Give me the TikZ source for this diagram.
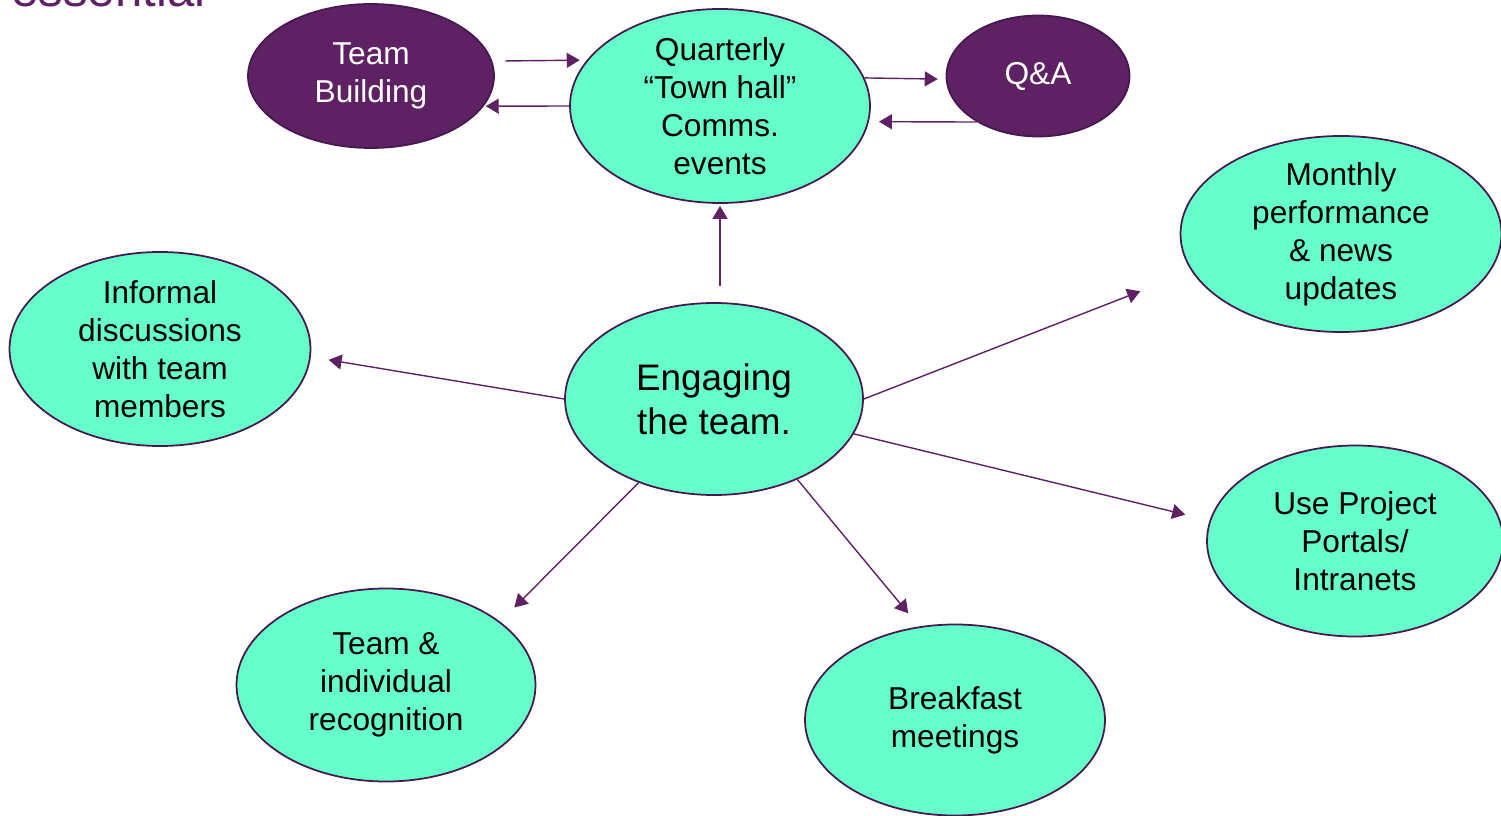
\documentclass[tikz,border=0pt]{standalone}
\usepackage{fontspec}
\setmainfont{Liberation Sans}
\usetikzlibrary{shapes.geometric}
\usetikzlibrary{arrows.meta}
\definecolor{mint}{HTML}{66FFCC}
\definecolor{plum}{HTML}{5E2264}
\definecolor{plumedge}{HTML}{461850}
\tikzstyle{bubble}=[ellipse, draw=plumedge, line width=1pt, fill=mint, align=center, inner xsep=0pt, inner ysep=-3pt, minimum width=6cm, minimum height=3.88cm, font=\fontsize{18}{21.6}\selectfont]
\tikzstyle{dark bubble}=[bubble, fill=plum, text=white]
\tikzstyle{link}=[draw=plum, line width=0.8pt, -{Triangle[length=0.26cm, width=0.3cm]}]

\begin{document}
\begin{tikzpicture}
  \useasboundingbox (0, 0) rectangle (30.02, 16.30);
  \node[anchor=base west, text=plum, font=\fontsize{28}{34}\selectfont] (heading) at (0.1, 16.16) {essential};

  \node[dark bubble, minimum width=4.92cm, minimum height=2.88cm] (team) at (7.42, 14.78) {Team\\Building};
  \node[bubble] (townhall) at (14.40, 14.18) {Quarterly\\“Town hall”\\Comms.\\events};
  \node[dark bubble, minimum width=3.66cm, minimum height=2.42cm] (qa) at (20.76, 14.78) {Q\&A};
  \node[bubble, minimum width=6.42cm, minimum height=3.92cm] (monthly) at (26.82, 11.62) {Monthly\\performance\\\& news\\updates};
  \node[bubble, minimum width=6.02cm] (informal) at (3.20, 9.32) {Informal\\discussions\\with team\\members};
  \node[bubble, minimum width=5.96cm, minimum height=3.84cm, font=\fontsize{21}{25}\selectfont] (engage) at (14.28, 8.32) {Engaging\\the team.};
  \node[bubble, minimum width=5.92cm, minimum height=3.82cm] (portals) at (27.10, 5.48) {Use Project\\Portals/\\Intranets};
  \node[bubble, minimum width=5.98cm, minimum height=3.86cm] (recognition) at (7.72, 2.60) {Team \&\\individual\\recognition};
  \node[bubble, minimum height=3.82cm] (breakfast) at (19.10, 1.90) {Breakfast\\meetings};

  \draw[link, shorten <=0.26cm, shorten >=0.14cm] (team.7) -- (townhall.161);
  \draw[link, shorten >=0.04cm] (townhall.west) -- (team.-15);
  \draw[link, shorten >=0.16cm] (townhall.11) -- (qa.182);
  \draw[link, shorten >=0.2cm] (qa.217) -- (townhall.-6);
  \draw[link, shorten <=0.32cm, shorten >=0.04cm] (engage.north -| townhall.south) -- (townhall.south);
  \draw[link, shorten >=1.1cm] (engage.east) -- (monthly.194);
  \draw[link, shorten >=0.5cm] (engage.-14) -- (portals.172);
  \draw[link, shorten >=0.34cm] (engage.-44) -- (breakfast.111);
  \draw[link, shorten >=0.4cm] (engage.-132) -- (recognition.29);
  \draw[link, shorten >=0.36cm] (engage.west) -- (informal.-3);
\end{tikzpicture}
\end{document}
